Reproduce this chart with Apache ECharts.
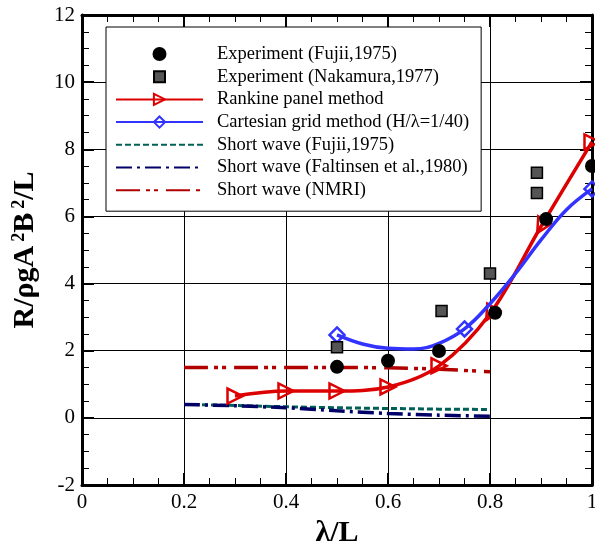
<!DOCTYPE html>
<html>
<head>
<meta charset="utf-8">
<script src="https://cdn.jsdelivr.net/npm/echarts@6/dist/echarts.min.js"></script>
<style>html,body{margin:0;padding:0;background:#fff}#c{width:595px;height:545px}</style>
</head>
<body>
<div id="c"></div>
<script>
const xFujiiExp = [0.5, 0.6, 0.7, 0.81, 0.91, 1.0];
const yFujiiExp = [1.52, 1.70, 1.99, 3.13, 5.92, 7.5];
const xNakamura = [0.5, 0.705, 0.8, 0.892, 0.892];
const yNakamura = [2.1, 3.18, 4.3, 7.3, 6.7];
const xRankine = [0.3, 0.4, 0.5, 0.6, 0.7, 0.8, 0.9, 1.0];
const yRankine = [0.65, 0.8, 0.8, 0.92, 1.55, 3.1, 5.7, 8.22];
const xCartesian = [0.5, 0.55, 0.6, 0.65, 0.7, 0.75, 0.8, 0.85, 0.9, 0.95, 1.0];
const yCartesian = [2.47, 2.2, 2.07, 2.05, 2.22, 2.65, 3.4, 4.3, 5.3, 6.2, 6.82];
const xCartesianMarkers = [0.5, 0.75, 1.0];
const xShort = [0.2, 0.3, 0.4, 0.5, 0.6, 0.7, 0.8];
const yShortFujii = [0.4, 0.37, 0.33, 0.3, 0.28, 0.26, 0.25];
const yShortFaltinsen = [0.4, 0.36, 0.3, 0.21, 0.13, 0.08, 0.05];
const yShortNMRI = [1.5, 1.5, 1.5, 1.5, 1.49, 1.45, 1.37];
const seriesNames = ['Experiment (Fujii,1975)', 'Experiment (Nakamura,1977)', 'Rankine panel method',
  'Cartesian grid method (H/\u03bb=1/40)', 'Short wave (Fujii,1975)', 'Short wave (Faltinsen et al.,1980)', 'Short wave (NMRI)'];
const xAxisTitle = '\u03bb/L';
const yAxisTitle = 'R/\u03c1gA{sup|2}B{sup|2}/L';

const zip = (xs, ys) => xs.map((x, i) => [x, ys[i]]);
const FONT = '"Liberation Serif", "Times New Roman", serif';

const chart = echarts.init(document.getElementById('c'), null, {renderer: 'canvas'});

const rankData = zip(xRankine, yRankine).map(p => (p[0] >= 0.75 && p[0] < 0.95) ? {value: p, symbolRotate: 150} : {value: p});
const cartData = zip(xCartesian, yCartesian).map(p => xCartesianMarkers.indexOf(p[0]) >= 0 ? {value: p} : {value: p, symbol: 'none'});

function frameAxis(extra) {
  return Object.assign({
    type: 'value',
    axisLine: {show: true, onZero: false, lineStyle: {color: '#000', width: 3}},
    axisTick: {show: true, inside: true, length: 12, lineStyle: {color: '#000', width: 2}},
    minorTick: {show: true, splitNumber: 4, length: 7, lineStyle: {color: '#000', width: 1}},
    axisLabel: {fontFamily: FONT, fontSize: 21, color: '#000', margin: 7},
    splitLine: {show: false}
  }, extra);
}
const titleStyle = {fontFamily: FONT, fontSize: 30, fontWeight: 'bold', color: '#000'};

chart.setOption({
  animation: false,
  backgroundColor: '#fff',
  grid: {left: 82, right: 3, top: 15, bottom: 60, containLabel: false, outerBoundsMode: 'none'},
  legend: {
    orient: 'vertical', left: 106, top: 27,
    padding: [17.5, 12, 11.5, 9],
    itemWidth: 87, itemHeight: 14, itemGap: 3.7,
    backgroundColor: '#fff', borderColor: '#000', borderWidth: 1,
    textStyle: {fontFamily: FONT, fontSize: 18.5, lineHeight: 16, color: '#000', padding: [0, 0, 0, 9]},
    data: [
      {name: seriesNames[0]},
      {name: seriesNames[1], icon: 'path://M-1.5,-1.5M0,0H11V11H0ZM12.5,12.5'},
      {name: seriesNames[2]},
      {name: seriesNames[3]},
      {name: seriesNames[4], itemStyle: {opacity: 0}},
      {name: seriesNames[5], itemStyle: {opacity: 0}},
      {name: seriesNames[6], itemStyle: {opacity: 0}}
    ]
  },
  xAxis: [
    frameAxis({position: 'bottom', min: 0, max: 1, interval: 0.2,
      name: xAxisTitle, nameLocation: 'middle', nameGap: 27, nameTextStyle: titleStyle,
      splitLine: {show: true, lineStyle: {color: '#000', width: 1}}}),
    frameAxis({position: 'top', min: 0, max: 1, interval: 0.2, axisLabel: {show: false}})
  ],
  yAxis: [
    frameAxis({position: 'left', min: -2, max: 12, interval: 2,
      name: yAxisTitle, nameLocation: 'middle', nameGap: 42, nameRotate: 90,
      nameTextStyle: Object.assign({}, titleStyle, {
        rich: {sup: {fontFamily: FONT, fontSize: 18, fontWeight: 'bold', color: '#000',
          verticalAlign: 'top', lineHeight: 16, padding: [0, 0, 0, 4]}}
      }),
      splitLine: {show: true, lineStyle: {color: '#000', width: 1}}}),
    frameAxis({position: 'right', min: -2, max: 12, interval: 2, axisLabel: {show: false}})
  ],
  series: [
    {name: seriesNames[4], type: 'line', z: 3, data: zip(xShort, yShortFujii), symbol: 'none',
      lineStyle: {color: '#006058', width: 3, type: [6, 3]}, itemStyle: {color: '#006058'}},
    {name: seriesNames[5], type: 'line', z: 3, data: zip(xShort, yShortFaltinsen), symbol: 'none', smooth: 0.3,
      lineStyle: {color: '#000066', width: 3.5, type: [16, 5, 3, 5]}, itemStyle: {color: '#000066'}},
    {name: seriesNames[6], type: 'line', z: 3, data: zip(xShort, yShortNMRI), symbol: 'none', smooth: 0.3,
      lineStyle: {color: '#b00000', width: 3.5, type: [24, 6, 4, 4, 4, 8]}, itemStyle: {color: '#b00000'}},
    {name: seriesNames[2], type: 'line', z: 4, data: rankData, smooth: 0.35,
      symbol: 'triangle', symbolSize: 15, symbolRotate: -90, showAllSymbol: true,
      lineStyle: {color: '#dd0000', width: 3.5},
      itemStyle: {color: 'rgba(255,255,255,0)', borderColor: '#dd0000', borderWidth: 2.5}},
    {name: seriesNames[3], type: 'line', z: 5, data: cartData, smooth: 0.4,
      symbol: 'diamond', symbolSize: 15, showAllSymbol: true,
      lineStyle: {color: '#3333ff', width: 3.5},
      itemStyle: {color: 'rgba(255,255,255,0)', borderColor: '#3333ff', borderWidth: 2.5}},
    {name: seriesNames[0], type: 'scatter', z: 6, data: zip(xFujiiExp, yFujiiExp),
      symbol: 'circle', symbolSize: 14, itemStyle: {color: '#000', opacity: 1}},
    {name: seriesNames[1], type: 'scatter', z: 6, data: zip(xNakamura, yNakamura),
      symbol: 'rect', symbolSize: 11, itemStyle: {color: '#555', borderColor: '#000', borderWidth: 1.5, opacity: 1}}
  ]
});
</script>
</body>
</html>
